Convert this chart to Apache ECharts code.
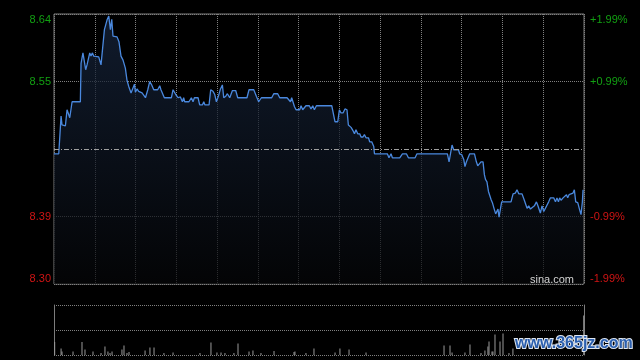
<!DOCTYPE html>
<html><head><meta charset="utf-8">
<script src="https://cdn.jsdelivr.net/npm/echarts@6/dist/echarts.min.js"></script>
<style>html,body{margin:0;padding:0;background:#000;}#c{width:640px;height:360px;}</style>
</head><body><div id="c"></div>
<script>
// ---- data ----
const prevClose = 8.47;          // previous close (dash-dot centre line)
const pctRange = 1.99;           // axis half range in %
const sessionMinutes = 390;      // x axis length (13 x 30 min)
const leftLabels  = ['8.30', '8.39', '', '8.55', '8.64'];
const rightLabels = ['-1.99%', '-0.99%', '', '+0.99%', '+1.99%'];
// [minute, price]
const pricePoints = [
[0,8.464],[3.5,8.464],[5.2,8.511],[5.9,8.500],[8.4,8.499],[9.6,8.519],[10.8,8.517],[11.6,8.509],[13.3,8.529],[19.4,8.529],
[19.9,8.577],[21.3,8.590],[22.4,8.588],[23.3,8.569],[24.3,8.575],[25.5,8.575],[26.3,8.590],[27.2,8.586],[28.3,8.590],[29.2,8.586],
[32.9,8.585],[34.6,8.575],[35.6,8.575],[37.1,8.619],[38.0,8.621],[39.0,8.631],[40.3,8.636],[41.5,8.619],[42.5,8.632],[43.4,8.611],
[46.4,8.610],[47.8,8.604],[49.3,8.586],[50.8,8.581],[52.5,8.571],[53.7,8.556],[55.0,8.548],[56.7,8.540],[58.1,8.540],[59.2,8.551],
[59.9,8.541],[61.1,8.545],[62.3,8.542],[63.6,8.544],[64.8,8.540],[66.0,8.541],[67.3,8.534],[69.0,8.544],[70.4,8.554],[71.9,8.550],
[73.4,8.544],[76.3,8.544],[77.8,8.549],[78.7,8.544],[80.0,8.544],[81.2,8.534],[86.4,8.534],[87.6,8.544],[89.6,8.538],[91.3,8.534],
[93.0,8.535],[94.5,8.529],[95.4,8.534],[96.2,8.529],[99.3,8.529],[101.1,8.534],[102.3,8.529],[103.3,8.534],[106.0,8.534],[107.2,8.525],
[109.2,8.525],[110.2,8.529],[111.1,8.525],[114.1,8.525],[115.3,8.544],[117.0,8.542],[118.3,8.538],[119.5,8.529],[121.0,8.536],[122.5,8.545],
[123.9,8.550],[124.9,8.534],[126.4,8.536],[127.6,8.539],[129.3,8.534],[131.3,8.543],[133.7,8.543],[135.2,8.534],[142.0,8.534],[143.5,8.544],
[147.0,8.544],[148.9,8.536],[150.6,8.529],[152.6,8.534],[160.2,8.534],[161.7,8.539],[164.6,8.539],[166.1,8.534],[171.5,8.534],[172.9,8.536],
[174.0,8.529],[174.9,8.534],[176.9,8.523],[178.1,8.519],[180.8,8.519],[181.8,8.524],[183.0,8.519],[184.3,8.520],[185.4,8.524],[187.9,8.524],
[189.1,8.520],[190.4,8.524],[191.6,8.519],[193.1,8.524],[204.4,8.524],[206.8,8.504],[208.8,8.504],[210.0,8.519],[211.2,8.515],[212.7,8.515],
[214.1,8.520],[215.6,8.519],[216.6,8.500],[218.6,8.497],[220.0,8.493],[221.1,8.489],[222.2,8.494],[223.5,8.489],[225.0,8.489],[225.9,8.485],
[227.4,8.485],[228.4,8.488],[229.6,8.484],[231.4,8.484],[232.3,8.479],[233.8,8.479],[235.3,8.473],[235.8,8.464],[245.3,8.464],[246.5,8.459],
[248.0,8.464],[249.0,8.459],[254.4,8.459],[256.4,8.464],[259.3,8.464],[260.8,8.459],[265.7,8.459],[267.1,8.464],[289.5,8.464],[290.7,8.454],
[291.7,8.454],[292.9,8.475],[294.1,8.469],[297.6,8.469],[298.5,8.464],[300.0,8.463],[301.5,8.457],[302.4,8.448],[303.5,8.454],[304.4,8.454],
[305.9,8.464],[309.4,8.464],[310.8,8.454],[311.8,8.449],[312.7,8.449],[314.2,8.454],[315.7,8.454],[316.7,8.438],[317.5,8.432],[318.6,8.429],
[319.7,8.417],[320.6,8.419],[321.6,8.407],[322.6,8.403],[324.1,8.394],[325.0,8.389],[326.0,8.389],[326.7,8.395],[327.5,8.385],[328.5,8.384],
[329.4,8.404],[336.3,8.404],[337.8,8.414],[339.5,8.415],[340.7,8.419],[342.0,8.414],[344.4,8.414],[346.1,8.406],[348.1,8.396],[349.3,8.399],
[350.6,8.395],[351.7,8.394],[353.5,8.399],[355.0,8.404],[355.9,8.400],[356.9,8.399],[357.9,8.390],[359.1,8.399],[360.4,8.392],[361.8,8.394],
[364.0,8.404],[365.3,8.409],[367.7,8.409],[369.0,8.404],[370.1,8.409],[371.2,8.404],[372.1,8.409],[373.1,8.406],[374.6,8.409],[375.6,8.409],
[377.1,8.413],[378.0,8.409],[379.0,8.413],[380.4,8.414],[381.9,8.415],[382.9,8.419],[383.9,8.404],[385.4,8.403],[386.8,8.394],[387.8,8.388],
[388.8,8.404],[389.3,8.419]
];
// [minute, volume (relative units, axis max 100)]
const volumePoints = [
[0.5,26],[5.2,13],[5.9,7],[14.0,7],[20.6,26],[22.8,11],[28.7,7],[34.6,4],[37.5,17],[39.7,7],
[41.2,4],[42.7,7],[50.0,11],[51.5,19],[53.7,4],[55.2,6],[67.0,9],[70.6,15],[73.6,15],[80.9,4],
[87.6,5],[107.4,4],[115.5,25],[119.9,5],[122.9,5],[125.8,4],[132.4,4],[135.4,23],[143.5,7],[146.4,9],
[152.3,4],[161.9,8],[176.6,6],[177.3,7],[185.4,4],[191.3,13],[206.8,5],[210.4,13],[217.1,11],[229.6,5],
[287.0,19],[291.4,19],[292.9,5],[302.4,5],[306.1,21],[314.2,4],[317.1,9],[319.3,17],[320.1,27],[322.3,7],
[323.0,7],[324.5,41],[328.2,27],[330.4,43],[334.8,4],[337.7,13],[389.8,79]
];
const volumeMax = 100;

// ---- chart ----
const toPct = p => (p / prevClose - 1) * 100;
const gridCol = '#808080';
const borderCol = '#7c7c7c';
const green = '#12a012', red = '#d01414';
const font = 'Liberation Sans, Arial, sans-serif';
const labelRich = {
  g: {color: green, fontSize: 11, fontFamily: font},
  r: {color: red, fontSize: 11, fontFamily: font}
};
const fmt = labels => (v, i) => {
  const t = labels[i];
  if (!t) return '';
  return (i > 2 ? '{g|' : '{r|') + t + '}';
};

const chart = echarts.init(document.getElementById('c'), null, {renderer: 'canvas'});
chart.setOption({
  backgroundColor: '#000',
  animation: false,
  grid: [
    {left: 54, right: 56, top: 14, height: 270, show: true, borderColor: borderCol, borderWidth: 1, backgroundColor: 'transparent'},
    {left: 54, right: 56, top: 305, height: 50, show: false}
  ],
  xAxis: [
    {gridIndex: 0, type: 'value', min: 0, max: sessionMinutes, interval: 30,
     axisLine: {show: false}, axisTick: {show: false}, axisLabel: {show: false},
     splitLine: {show: true, lineStyle: {color: gridCol, type: [1, 1], width: 1}}},
    {gridIndex: 1, type: 'value', min: 0, max: sessionMinutes,
     axisLine: {show: false}, axisTick: {show: false}, axisLabel: {show: false}, splitLine: {show: false}}
  ],
  yAxis: [
    {gridIndex: 0, type: 'value', position: 'left', min: -pctRange, max: pctRange, interval: pctRange / 2,
     axisLine: {show: false}, axisTick: {show: false},
     axisLabel: {show: true, margin: 3, formatter: fmt(leftLabels), rich: labelRich,
                 verticalAlignMaxLabel: 'top', verticalAlignMinLabel: 'bottom'},
     splitLine: {show: true, lineStyle: {color: [gridCol, gridCol, 'rgba(0,0,0,0)', gridCol, gridCol], type: [1, 1], width: 1}}},
    {gridIndex: 0, type: 'value', position: 'right', min: -pctRange, max: pctRange, interval: pctRange / 2,
     axisLine: {show: false}, axisTick: {show: false},
     axisLabel: {show: true, margin: 6, formatter: fmt(rightLabels), rich: labelRich,
                 verticalAlignMaxLabel: 'top', verticalAlignMinLabel: 'bottom'},
     splitLine: {show: false}},
    {gridIndex: 1, type: 'value', position: 'left', min: 0, max: volumeMax, interval: volumeMax / 2,
     axisLine: {show: true, lineStyle: {color: borderCol}}, axisTick: {show: false}, axisLabel: {show: false},
     splitLine: {show: true, lineStyle: {color: gridCol, type: [1, 1], width: 1}}},
    {gridIndex: 1, type: 'value', position: 'right', min: 0, max: volumeMax,
     axisLine: {show: true, lineStyle: {color: borderCol}}, axisTick: {show: false}, axisLabel: {show: false},
     splitLine: {show: false}}
  ],
  series: [
    {type: 'line', xAxisIndex: 0, yAxisIndex: 0,
     data: pricePoints.map(d => [d[0], toPct(d[1])]),
     showSymbol: false, symbol: 'none', silent: true,
     lineStyle: {color: '#4a88dd', width: 1.3},
     areaStyle: {origin: 'start', color: {type: 'linear', x: 0, y: 0, x2: 0, y2: 1,
       colorStops: [{offset: 0, color: '#17263f'}, {offset: 1, color: '#050608'}]}},
     markLine: {symbol: 'none', silent: true, label: {show: false},
       lineStyle: {color: '#a0a0a0', type: [5, 2, 1, 2], width: 1},
       data: [{yAxis: toPct(prevClose)}]}
    },
    {type: 'bar', xAxisIndex: 1, yAxisIndex: 2, data: volumePoints, barWidth: 1, silent: true,
     itemStyle: {color: '#9a9a9a'}}
  ],
  graphic: [
    {type: 'text', right: 66, top: 274, silent: true, z: 100,
     style: {text: 'sina.com', fill: '#d4d4d4', font: '11px ' + font}},
    {type: 'text', left: 514, top: 335, silent: true, z: 100,
     style: {text: 'www.365jz.com', fill: '#2b5fae', stroke: '#dfe6f0', lineWidth: 2,
             font: 'bold 16px ' + font}}
  ]
});
</script>
</body></html>
